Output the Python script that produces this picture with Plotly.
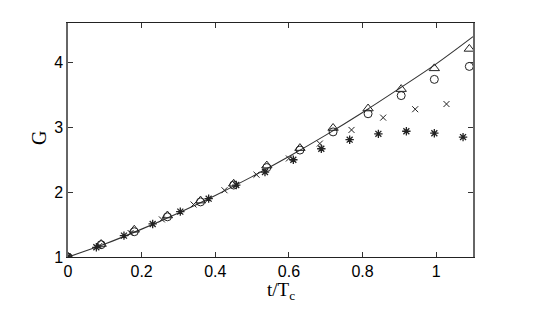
import plotly.graph_objects as go

# Theoretical curve
curve_t = [0, 0.1, 0.2, 0.3, 0.4, 0.5, 0.6, 0.7, 0.8, 0.9, 1.0, 1.1]
curve_g = [1.0, 1.2, 1.43, 1.68, 1.95, 2.24, 2.55, 2.88, 3.23, 3.6, 3.98, 4.4]

# Triangles and circles
tri_t = [0, 0.09, 0.18, 0.27, 0.36, 0.45, 0.54, 0.63, 0.72, 0.815, 0.905, 0.995, 1.09]
tri_g = [1.0, 1.2, 1.42, 1.64, 1.87, 2.13, 2.41, 2.68, 2.99, 3.29, 3.59, 3.91, 4.21]
circ_t = [0, 0.09, 0.18, 0.27, 0.36, 0.45, 0.54, 0.63, 0.72, 0.815, 0.905, 0.995, 1.09]
circ_g = [1.0, 1.19, 1.39, 1.62, 1.85, 2.11, 2.38, 2.65, 2.93, 3.21, 3.49, 3.74, 3.94]

# Crosses
cross_t = [0, 0.085, 0.17, 0.255, 0.341, 0.425, 0.512, 0.6, 0.684, 0.77, 0.856, 0.943, 1.028]
cross_g = [1.0, 1.17, 1.37, 1.58, 1.81, 2.03, 2.27, 2.52, 2.75, 2.96, 3.15, 3.28, 3.36]

# Asterisks
star_t = [0, 0.077, 0.152, 0.23, 0.305, 0.382, 0.457, 0.535, 0.612, 0.688, 0.765, 0.843, 0.919, 0.995, 1.073]
star_g = [1.0, 1.15, 1.33, 1.51, 1.7, 1.9, 2.11, 2.31, 2.5, 2.67, 2.81, 2.9, 2.94, 2.91, 2.85]

x_ticks = [0, 0.2, 0.4, 0.6, 0.8, 1]
x_tick_labels = ["0", "0.2", "0.4", "0.6", "0.8", "1"]
y_ticks = [1, 2, 3, 4]
y_tick_labels = ["1", "2", "3", "4"]

fig = go.Figure()
fig.add_trace(go.Scatter(x=curve_t, y=curve_g, mode="lines", line=dict(color="#333", width=1.1, shape="spline"), showlegend=False))
fig.add_trace(go.Scatter(x=tri_t, y=tri_g, mode="markers",
                         marker=dict(symbol="triangle-up-open", size=9, color="#222", line=dict(width=1)), showlegend=False))
fig.add_trace(go.Scatter(x=circ_t, y=circ_g, mode="markers",
                         marker=dict(symbol="circle-open", size=8, color="#222", line=dict(width=1)), showlegend=False))
fig.add_trace(go.Scatter(x=cross_t, y=cross_g, mode="markers",
                         marker=dict(symbol="x-thin-open", size=6, color="#222", line=dict(width=1)), showlegend=False))
fig.add_trace(go.Scatter(x=star_t, y=star_g, mode="markers",
                         marker=dict(symbol="asterisk-open", size=7, color="#222", line=dict(width=1.3)), showlegend=False))

serif = "Liberation Serif, Times New Roman, serif"
fig.update_layout(
    width=537, height=305,
    margin=dict(l=60, r=72, t=15, b=56),
    paper_bgcolor="white", plot_bgcolor="white",
    font=dict(family="Liberation Sans, Arial, sans-serif", size=16, color="black"),
    xaxis=dict(range=[0, 1.1], tickvals=x_ticks, ticktext=x_tick_labels, automargin=False,
               ticks="inside", ticklen=5, tickcolor="#333", showgrid=False, zeroline=False,
               showline=True, linecolor="#222", linewidth=1, mirror="ticks"),
    yaxis=dict(range=[1, 4.61], tickvals=y_ticks, ticktext=y_tick_labels, automargin=False,
               ticks="inside", ticklen=5, tickcolor="#333", showgrid=False, zeroline=False,
               showline=True, linecolor="#666", linewidth=1.5, mirror="ticks"),
    annotations=[
        dict(text="t/T<sub>c</sub>", xref="paper", yref="paper", x=0.526, y=-0.145,
             xanchor="center", yanchor="middle", showarrow=False, font=dict(family=serif, size=19)),
        dict(text="G", xref="paper", yref="paper", x=-0.0716, y=0.509, textangle=-90,
             xanchor="center", yanchor="middle", showarrow=False, font=dict(family=serif, size=20)),
    ],
)

fig.write_html("out.html")
